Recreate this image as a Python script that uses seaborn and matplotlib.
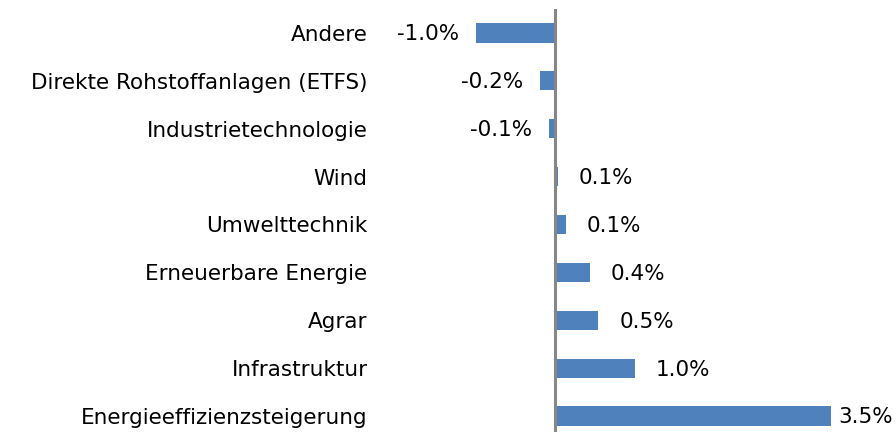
import matplotlib
matplotlib.use("Agg")
import matplotlib.pyplot as plt
import seaborn as sns
import pandas as pd

categories = ["Andere", "Direkte Rohstoffanlagen (ETFS)", "Industrietechnologie", "Wind",
              "Umwelttechnik", "Erneuerbare Energie", "Agrar", "Infrastruktur",
              "Energieeffizienzsteigerung"]
values = [-1.0, -0.19, -0.08, 0.04, 0.14, 0.44, 0.55, 1.01, 3.5]
value_labels = ["-1.0%", "-0.2%", "-0.1%", "0.1%", "0.1%", "0.4%", "0.5%", "1.0%", "3.5%"]

df = pd.DataFrame({"cat": categories, "val": values})

sns.set_theme(style="white")
plt.rcParams["font.family"] = ["DejaVu Sans"]

FS = 15.5
W, H = 896, 432
fig = plt.figure(figsize=(W / 100, H / 100), dpi=100)
left_px, right_px, top_px, bot_px = 380, 896, 9, 440
ax = fig.add_axes([left_px / W, (H - bot_px) / H, (right_px - left_px) / W, (bot_px - top_px) / H])

sns.barplot(data=df, x="val", y="cat", orient="h", color="#4F81BD", saturation=1,
            width=0.4, ax=ax, edgecolor="none")

ppu = 78.9  # pixels per percent
zero_px = 555
ax.set_xlim((left_px - zero_px) / ppu, (right_px - zero_px) / ppu)
ax.set_ylim(8.5, -0.5)
ax.axvline(0, color="#868686", lw=2.2, zorder=5)

for s in ax.spines.values():
    s.set_visible(False)
ax.set_xticks([])
ax.set_xlabel("")
ax.set_ylabel("")
ax.tick_params(axis="y", length=0, pad=9, labelsize=FS, labelcolor="#000000")

for i, (v, lab) in enumerate(zip(values, value_labels)):
    if v < 0:
        ax.annotate(lab, (v, i), xytext=(-12, -1), textcoords="offset points",
                    ha="right", va="center", fontsize=FS, color="#000000")
    else:
        off = 5 if i == len(values) - 1 else 15
        ax.annotate(lab, (v, i), xytext=(off, -1), textcoords="offset points",
                    ha="left", va="center", fontsize=FS, color="#000000")

fig.savefig("out.png", dpi=100)
